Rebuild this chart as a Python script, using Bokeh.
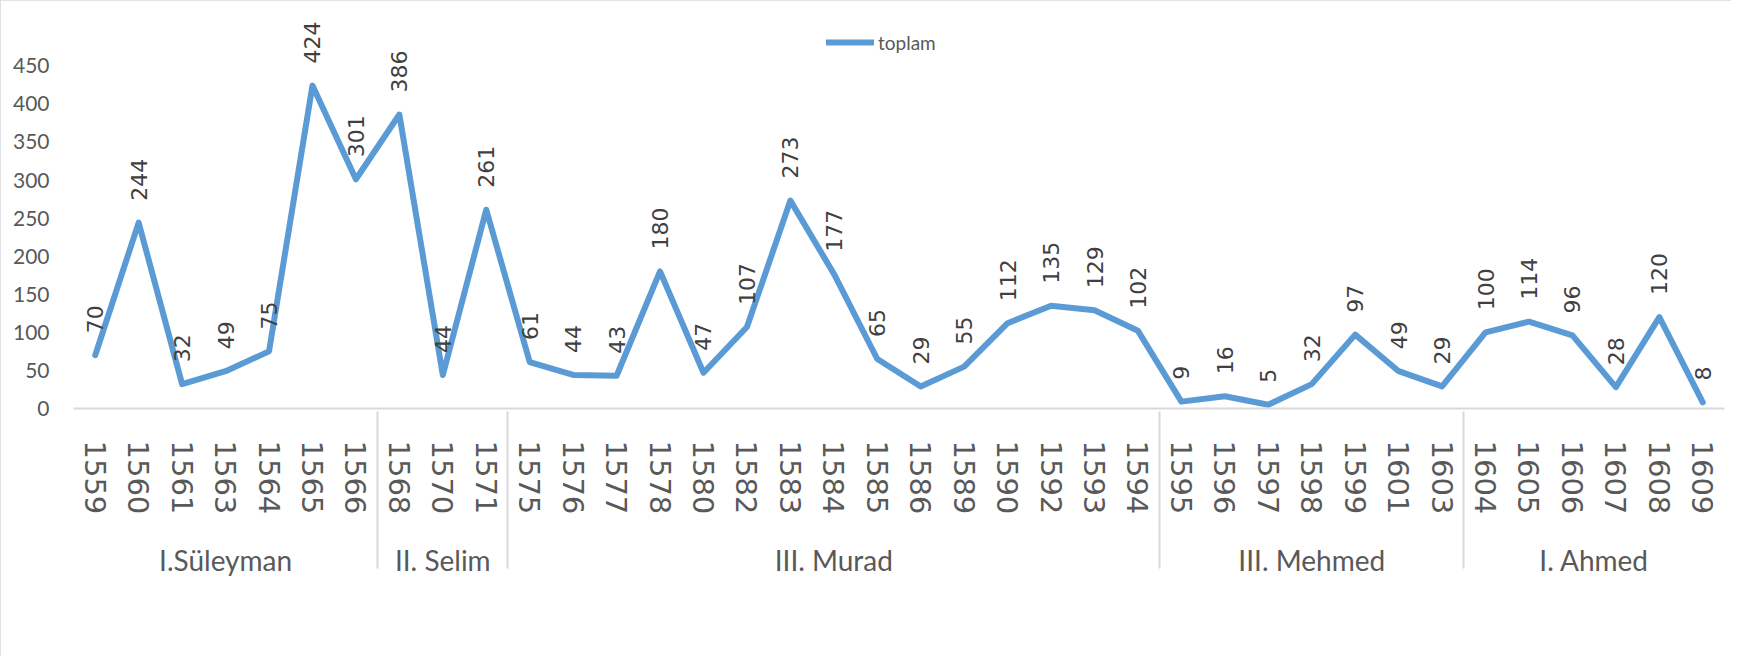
from math import pi
from bokeh.plotting import figure
from bokeh.models import (FactorRange, Range1d, FixedTicker, Legend, LegendItem,
                          ColumnDataSource)
from bokeh.core.properties import value
from bokeh.embed import file_html
from bokeh.resources import INLINE

# ---- data ----
sultans = ["I.Süleyman", "II. Selim", "III. Murad", "III. Mehmed", "I. Ahmed"]
years_suleyman = ["1559", "1560", "1561", "1563", "1564", "1565", "1566"]
years_selim = ["1568", "1570", "1571"]
years_murad = ["1575", "1576", "1577", "1578", "1580", "1582", "1583", "1584",
               "1585", "1586", "1589", "1590", "1592", "1593", "1594"]
years_mehmed = ["1595", "1596", "1597", "1598", "1599", "1601", "1603"]
years_ahmed = ["1604", "1605", "1606", "1607", "1608", "1609"]

vals_suleyman = [70, 244, 32, 49, 75, 424, 301]
vals_selim = [386, 44, 261]
vals_murad = [61, 44, 43, 180, 47, 107, 273, 177, 65, 29, 55, 112, 135, 129, 102]
vals_mehmed = [9, 16, 5, 32, 97, 49, 29]
vals_ahmed = [100, 114, 96, 28, 120, 8]

y_ticks = [0, 50, 100, 150, 200, 250, 300, 350, 400, 450]
series_name = "toplam"

year_groups = [years_suleyman, years_selim, years_murad, years_mehmed, years_ahmed]
val_groups = [vals_suleyman, vals_selim, vals_murad, vals_mehmed, vals_ahmed]

factors = []
values = []
for s, ys, vs in zip(sultans, year_groups, val_groups):
    for y, v in zip(ys, vs):
        factors.append((s, y))
        values.append(v)

src = ColumnDataSource(dict(x=factors, y=values, lbl=[str(v) for v in values]))

# ---- figure ----
W, H = 1731, 656
x_range = FactorRange(*factors, factor_padding=0, group_padding=0,
                      subgroup_padding=0, range_padding=0)
p = figure(x_range=x_range, y_range=Range1d(0, 520), width=W, height=H,
           output_backend="svg", toolbar_location=None,
           min_border_left=73, min_border_right=7, min_border_top=12,
           min_border_bottom=248)
p.outline_line_color = None
p.xgrid.visible = False
p.ygrid.visible = False
p.background_fill_color = "white"
p.border_fill_color = "white"
p.styles = {"outline": "2px solid #d9d9d9", "outline-offset": "-2px"}

line = p.line(x="x", y="y", source=src, line_color="#5b9bd5", line_width=6,
              line_join="round", line_cap="round")

p.text(x="x", y="y", text="lbl", source=src, angle=pi / 2, text_align="left",
       text_baseline="middle", y_offset=-22, text_font=value("DejaVu Sans"),
       text_font_size="22px", text_color="#404040")

# y axis
ya = p.yaxis[0]
ya.ticker = FixedTicker(ticks=y_ticks)
ya.axis_line_color = None
ya.major_tick_line_color = None
ya.minor_tick_line_color = None
ya.major_label_standoff = 18
ya.major_label_text_font = "Lato"
ya.major_label_text_font_size = "21px"
ya.major_label_text_color = "#595959"

# x axis
xa = p.xaxis[0]
xa.axis_line_color = "#d9d9d9"
xa.axis_line_width = 2
xa.major_tick_line_color = None
xa.minor_tick_line_color = None
xa.major_label_orientation = "vertical"
xa.major_label_standoff = 26
xa.major_label_text_font = "DejaVu Sans"
xa.major_label_text_font_size = "29px"
xa.major_label_text_color = "#595959"
xa.group_label_orientation = "horizontal"
xa.group_text_font = "Lato"
xa.group_text_font_style = "normal"
xa.group_text_font_size = "28px"
xa.group_text_color = "#595959"
xa.separator_line_color = "#d9d9d9"
xa.separator_line_width = 2

legend = Legend(items=[LegendItem(label=series_name, renderers=[line])],
                location=(753, 354))
legend.background_fill_alpha = 0
legend.border_line_color = None
legend.glyph_width = 48
legend.glyph_height = 24
legend.label_height = 24
legend.label_standoff = 4
legend.padding = 0
legend.margin = 0
legend.label_text_font = "Lato"
legend.label_text_font_size = "19px"
legend.label_text_color = "#595959"
p.add_layout(legend)

open("out.html", "w").write(file_html(p, INLINE))
